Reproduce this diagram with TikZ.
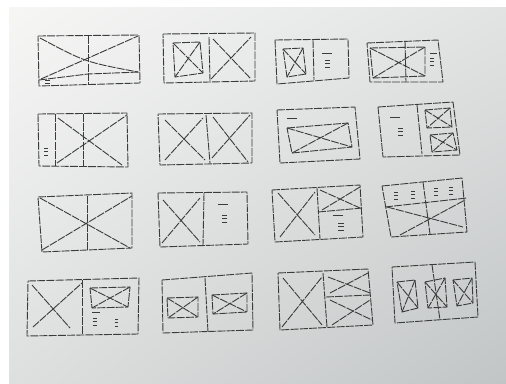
\documentclass[tikz,border=0pt]{standalone}
\usetikzlibrary{shadings}
\definecolor{ink}{RGB}{58,60,60}
\definecolor{pTL}{RGB}{246,246,245}
\definecolor{pTR}{RGB}{226,228,228}
\definecolor{pBL}{RGB}{222,224,224}
\definecolor{pBR}{RGB}{194,197,197}
\tikzset{
  sk/.style={draw=ink, line width=0.9pt, dash pattern=on 8pt off 1.2pt, line join=round},
  tx/.style={draw=ink, line width=1pt}
}
\newcommand\skQ[4]{\draw[sk] #1 -- #2 -- #3 -- #4 -- cycle;}
\newcommand\skX[4]{\draw[sk] #1 -- #2 -- #3 -- #4 -- cycle; \draw[sk] #1 -- #3 #2 -- #4;}
\newcommand\skE[3]{\draw[tx] (#1,#2) -- ++(#3,0) (#1,#2+3.5) -- ++(#3,0) (#1,#2+7) -- ++(#3,0);}
\newcommand\skS[3]{\draw[tx] (#1,#2) -- ++(#3,0);}
\begin{document}
\begin{tikzpicture}[x=1pt,y=-1pt]
\useasboundingbox (0,0) rectangle (506,383);
\fill[white] (0,0) rectangle (506,383);
\shade[upper left=pTL, upper right=pTR, lower left=pBL, lower right=pBR] (9,7) rectangle (506,383);

% ---- row 1 ----
% S1
\skQ{(38,36)}{(139,35)}{(140,83)}{(39,86)}
\draw[sk] (88,36) -- (88,85);
\draw[sk] (39,80) -- (88,74) -- (140,72);
\draw[sk] (40,38) .. controls (85,62) .. (138,72);
\draw[sk] (41,79) -- (138,36);
\draw[tx] (45,80) -- ++(5,0) (45,83) -- ++(5,0);
% S2
\skQ{(163,34)}{(255,33)}{(255,81)}{(164,83)}
\skX{(173,43)}{(200,42)}{(203,73)}{(175,77)}
\draw[sk] (209,37) -- (210,81);
\draw[sk] (213,39) -- (251,79) (211,79) -- (251,37);
% S3
\skQ{(275,40)}{(348,39)}{(349,78)}{(277,84)}
\draw[sk] (313,40) -- (314,80);
\skX{(283,49)}{(303,48)}{(306,74)}{(287,77)}
\skS{322}{53}{10}
\skE{325}{60}{5}
% S4
\skQ{(367,43)}{(438,40)}{(443,82)}{(370,82)}
\skX{(370,48)}{(425,47)}{(425,76)}{(373,78)}
\draw[sk] (405,41) -- (406,82);
\skS{430}{53}{7}
\skE{430}{58}{4}

% ---- row 2 ----
% S5
\skQ{(38,114)}{(127,113)}{(128,167)}{(39,166)}
\draw[sk] (55,114) -- (55,166) (83,114) -- (83,166);
\draw[sk] (58,118) -- (122,165) (57,163) -- (127,115);
\skE{44}{148}{4}
% S6
\skQ{(158,114)}{(252,113)}{(252,163)}{(160,165)}
\draw[sk] (206,115) -- (210,163);
\draw[sk] (165,120) -- (205,160) (165,160) -- (203,118);
\draw[sk] (213,117) -- (248,162) (212,158) -- (250,115);
% S7
\skQ{(277,110)}{(355,107)}{(360,159)}{(280,163)}
\skX{(287,128)}{(348,123)}{(352,147)}{(292,153)}
\skS{287}{118}{10}
% S8
\skQ{(378,107)}{(453,102)}{(460,155)}{(383,157)}
\draw[sk] (417,105) -- (422,154);
\skS{390}{117}{10}
\skE{398}{128}{5}
\skX{(425,110)}{(450,108)}{(452,127)}{(427,128)}
\skX{(430,135)}{(453,133)}{(457,150)}{(432,152)}

% ---- row 3 ----
% S9
\skQ{(38,197)}{(132,193)}{(132,248)}{(42,252)}
\draw[sk] (87,196) -- (87,250);
\draw[sk] (40,198) -- (130,248) (42,250) -- (132,196);
% S10
\skQ{(158,193)}{(247,192)}{(248,244)}{(160,247)}
\draw[sk] (204,193) -- (203,246);
\draw[sk] (163,200) -- (200,242) (162,243) -- (200,198);
\skS{218}{204}{10}
\skE{222}{215}{5}
% S11
\skQ{(272,190)}{(360,185)}{(363,237)}{(275,242)}
\draw[sk] (317,188) -- (320,239);
\draw[sk] (318,212) -- (362,208);
\draw[sk] (320,190) -- (360,208) (322,210) -- (360,187);
\draw[sk] (278,193) -- (315,235) (280,237) -- (315,192);
\skS{333}{215}{10}
\skE{338}{223}{6}
% S12
\skQ{(382,186)}{(462,178)}{(467,232)}{(391,237)}
\draw[sk] (423,182) -- (430,234);
\draw[sk] (385,207) -- (467,198);
\draw[sk] (387,207) -- (463,227) (400,235) -- (465,200);
\skE{394}{192}{4}
\skE{411}{191}{4}
\skE{434}{188}{4}
\skE{449}{187}{4}

% ---- row 4 ----
% S13
\skQ{(28,281)}{(139,278)}{(138,334)}{(27,336)}
\draw[sk] (82,280) -- (82,335);
\draw[sk] (32,285) -- (70,328) (33,327) -- (82,283);
\skX{(90,288)}{(130,287)}{(128,307)}{(92,308)}
\skS{92}{312}{8}
\skE{93}{318}{4}
\skE{115}{319}{3}
% S14
\skQ{(162,280)}{(252,273)}{(253,330)}{(163,333)}
\draw[sk] (205,278) -- (208,332);
\skX{(167,298)}{(198,297)}{(198,317)}{(168,318)}
\skX{(212,295)}{(247,293)}{(247,312)}{(213,314)}
% S15
\skQ{(278,273)}{(368,269)}{(373,325)}{(280,330)}
\draw[sk] (323,273) -- (327,327);
\draw[sk] (326,297) -- (370,295);
\draw[sk] (283,278) -- (322,325) (282,327) -- (322,277);
\draw[sk] (328,277) -- (370,293) (330,293) -- (368,273);
\draw[sk] (330,300) -- (372,320) (332,325) -- (370,300);
% S16
\skQ{(392,267)}{(475,262)}{(478,317)}{(395,323)}
\draw[sk] (432,265) -- (440,320);
\skX{(397,282)}{(415,280)}{(418,308)}{(402,312)}
\skX{(425,282)}{(445,278)}{(447,307)}{(428,308)}
\skX{(453,280)}{(472,278)}{(473,303)}{(457,306)}
\end{tikzpicture}
\end{document}
